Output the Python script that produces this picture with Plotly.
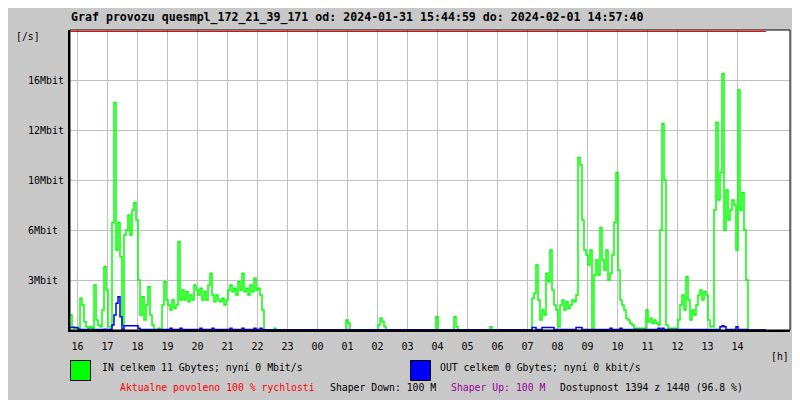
import numpy as np
import pandas as pd
import plotly.graph_objects as go

TITLE = "Graf provozu quesmpl_172_21_39_171 od: 2024-01-31 15:44:59 do: 2024-02-01 14:57:40"
START = "2024-01-31 15:45"
RANGE_END = "2024-02-01 15:45"
STEP_MIN = 4

# IN traffic, Mbit/s, one value per 4 minutes
IN_MBIT = (
    [0.9, 0.2, 0.1, 0.1, 0.1, 1.9, 1.5, 0.5, 0.2, 0.1,
     0.2, 0.1, 2.7, 0.6, 0.3, 0.2, 1.2, 3.8, 2.4, 0.2,
     0.2, 6.6, 14.2, 4.8, 6.6, 4.4, 0.3, 5.7, 6.0, 7.2,
     5.7, 7.6, 8.2, 6.8, 3.0, 0.9, 2.0, 0.6, 1.5, 2.6,
     0.9, 0.3, 0.0, 0.0, 0.1, 0.0, 1.5, 2.9, 1.8, 1.5,
     1.2, 1.8, 1.3, 1.5, 5.3, 1.8, 2.4, 1.8, 2.3, 1.7,
     2.1, 1.8, 2.7, 2.4, 2.1, 2.5, 1.8, 2.3, 1.8, 2.7,
     3.4, 2.1, 1.7, 2.1, 1.8, 1.7, 1.9, 1.5, 1.8, 2.4,
     2.7, 2.3, 2.5, 2.1, 2.9, 2.4, 3.4, 2.3, 2.5, 2.1,
     2.7, 2.3, 3.1, 2.4, 2.5, 2.1, 1.2, 0.0, 0.0, 0.0,
     0.0, 0.0, 0.1]
    + [0.0] * 35
    + [0.6, 0.4]
    + [0.0] * 14
    + [0.3, 0.7, 0.5, 0.2]
    + [0.0] * 25
    + [0.8]
    + [0.0] * 8
    + [0.8, 0.2]
    + [0.0] * 16
    + [0.2]
    + [0.0] * 20
    + [1.9, 2.2, 3.9, 1.8, 0.6, 1.2, 0.9, 3.4, 2.9, 4.8,
       2.4, 1.5, 1.2, 0.2, 1.5, 1.8, 1.2, 1.7, 1.3, 1.5,
       1.8, 1.7, 2.1, 10.9, 10.6, 6.8, 4.8, 4.5, 3.9, 4.8,
       0.0, 3.3, 4.2, 3.3, 6.2, 4.2, 3.6, 4.8, 3.0, 3.4,
       4.5, 6.6, 10.3, 3.6, 1.8, 1.5, 1.2, 0.7, 0.6, 0.4,
       0.3, 0.1, 0.1, 0.1, 0.1, 0.1, 0.1, 1.2, 0.5, 0.7,
       0.4, 0.6, 0.4, 0.3, 6.0, 12.5, 10.0, 0.3, 0.1, 0.1,
       0.1, 0.1, 0.1, 0.6, 1.5, 2.1, 1.2, 3.2, 1.8, 0.6,
       1.2, 0.9, 1.5, 2.1, 2.4, 1.8, 2.3, 2.1, 0.6, 0.2,
       0.2, 7.6, 12.6, 8.4, 10.3, 16.5, 6.0, 9.2, 6.8, 7.6,
       8.4, 8.0, 4.8, 15.2, 7.6, 9.0, 6.0, 3.0, 0.0]
    + [0.0] * 9
)

# OUT traffic, Mbit/s, one value per 4 minutes
OUT_MBIT = (
    [0.15, 0.15, 0.15, 0.15, 0.05, 0.03, 0.03, 0.03, 0.03, 0.03,
     0.03, 0.03, 0.03, 0.03, 0.03, 0.03, 0.03, 0.05, 0.03, 0.03,
     0.05, 0.3, 0.9, 1.6, 2.0, 0.8, 0.05, 0.25, 0.25, 0.25,
     0.25, 0.25, 0.25, 0.25, 0.1, 0.03, 0.03, 0.03, 0.03, 0.03,
     0.03, 0.03, 0.03, 0.03, 0.03, 0.03, 0.03, 0.03, 0.03, 0.03,
     0.1, 0.03, 0.03, 0.03, 0.03, 0.1, 0.03, 0.03, 0.03, 0.03,
     0.03, 0.03, 0.03, 0.03, 0.03, 0.1, 0.03, 0.03, 0.03, 0.03,
     0.03, 0.1, 0.03, 0.03, 0.03, 0.03, 0.03, 0.03, 0.03, 0.03,
     0.1, 0.03, 0.03, 0.03, 0.03, 0.03, 0.1, 0.03, 0.03, 0.03,
     0.03, 0.03, 0.1, 0.03, 0.03, 0.1, 0.03, 0.02, 0.02, 0.02]
    + [0.02] * 131
    + [0.15, 0.15, 0.03, 0.03, 0.03, 0.15, 0.15, 0.15, 0.15, 0.15,
       0.15, 0.03, 0.03, 0.03, 0.03, 0.03, 0.03, 0.03, 0.03, 0.03,
       0.03, 0.03, 0.15, 0.15, 0.15, 0.03, 0.03, 0.03, 0.03, 0.03,
       0.03, 0.03, 0.03, 0.03, 0.03, 0.03, 0.03, 0.03, 0.03, 0.1,
       0.03, 0.03, 0.03, 0.03, 0.1, 0.03, 0.03, 0.03, 0.03, 0.03,
       0.03, 0.03, 0.03, 0.03, 0.03, 0.03, 0.03, 0.03, 0.03, 0.03,
       0.03, 0.03, 0.03, 0.1, 0.03, 0.1, 0.03, 0.03, 0.03, 0.03,
       0.03, 0.03, 0.03, 0.03, 0.03, 0.03, 0.03, 0.03, 0.03, 0.03,
       0.03, 0.03, 0.03, 0.03, 0.03, 0.03, 0.03, 0.03, 0.03, 0.03,
       0.03, 0.03, 0.03, 0.03, 0.2, 0.25, 0.2, 0.03, 0.03, 0.03,
       0.03, 0.03, 0.2, 0.03, 0.03, 0.03, 0.03, 0.03, 0.0]
    + [0.0] * 9
)

HOUR_LABELS = ["16", "17", "18", "19", "20", "21", "22", "23", "00", "01", "02",
               "03", "04", "05", "06", "07", "08", "09", "10", "11", "12", "13", "14"]
FIRST_TICK = "2024-01-31 16:00"

Y_TICK_MBIT = [3, 6, 10, 12, 16]
Y_TICK_TEXT = ["3Mbit\u00a0", "6Mbit\u00a0", "10Mbit", "12Mbit", "16Mbit"]
# the chart's (non-linear) vertical scale: Mbit -> grid step
SCALE_MBIT = [0, 3, 6, 10, 12, 16, 20]
SCALE_POS = [0, 1, 2, 3, 4, 5, 6]

IN_TEXT = "IN celkem 11 Gbytes; nyní 0 Mbit/s"
OUT_TEXT = "OUT celkem 0 Gbytes; nyní 0 kbit/s"
STATUS = [
    ("Aktualne povoleno 100 % rychlosti", "#ff0000", 119),
    ("Shaper Down: 100 M", "#000000", 329),
    ("Shaper Up: 100 M", "#990099", 450),
    ("Dostupnost 1394 z 1440 (96.8 %)", "#000000", 559),
]

FONT = "DejaVu Sans Mono"
OFF = 8  # page body margin of the html page
W, H = 800 - OFF, 400 - OFF
L, R, T, B = 70 - OFF, 10, 30 - OFF, 70
PW, PH = W - L - R, H - T - B


def px(x):
    # page pixel x -> paper coordinate
    return (x - OFF - L) / PW


def py(y):
    # page pixel y -> paper coordinate
    return (H - B - (y - OFF)) / PH


def scale(v):
    return np.interp(np.asarray(v, dtype=float), SCALE_MBIT, SCALE_POS)


times = pd.date_range(START, periods=len(IN_MBIT), freq=f"{STEP_MIN}min")
tickvals = pd.date_range(FIRST_TICK, periods=len(HOUR_LABELS), freq="h")

fig = go.Figure()
fig.add_trace(go.Scatter(x=times, y=scale(IN_MBIT), mode="lines",
                         line=dict(color="#00ff00", width=1.5, shape="hv"),
                         name="IN", showlegend=False))
fig.add_trace(go.Scatter(x=times[:len(OUT_MBIT)], y=scale(OUT_MBIT), mode="lines",
                         line=dict(color="#0000ff", width=1.5, shape="hv"),
                         name="OUT", showlegend=False))

fig.update_layout(
    width=W, height=H,
    margin=dict(l=L, r=R, t=T, b=B),
    paper_bgcolor="#c8c8c8", plot_bgcolor="#ffffff",
    font=dict(family=FONT, size=10, color="#000000"),
    showlegend=False,
)
fig.update_xaxes(
    type="date", range=[START, RANGE_END],
    tickvals=tickvals, ticktext=HOUR_LABELS,
    showgrid=True, gridcolor="#c0c0c0", gridwidth=1,
    showline=True, linecolor="#000000", linewidth=2,
    ticks="", ticklabelstandoff=6, zeroline=False,
    tickfont=dict(family=FONT, size=10),
)
fig.update_yaxes(
    range=[0, 6], tickvals=scale(Y_TICK_MBIT), ticktext=Y_TICK_TEXT,
    showgrid=True, gridcolor="#c0c0c0", gridwidth=1,
    showline=True, linecolor="#000000", linewidth=2,
    ticks="", ticklabelstandoff=2, zeroline=False,
    tickfont=dict(family=FONT, size=10),
)

shapes = [
    dict(type="rect", xref="paper", yref="paper", x0=0, x1=1, y0=0, y1=1,
         line=dict(color="#000000", width=1)),
    dict(type="line", xref="x", yref="paper", x0=times[0], x1=times[-1],
         y0=py(31.5), y1=py(31.5), line=dict(color="#ff0000", width=1)),
    dict(type="rect", xref="paper", yref="paper", x0=px(70.5), x1=px(90.5),
         y0=py(360.5), y1=py(380.5), fillcolor="#00ff00", line=dict(color="#000000", width=1)),
    dict(type="rect", xref="paper", yref="paper", x0=px(410.5), x1=px(430.5),
         y0=py(360.5), y1=py(380.5), fillcolor="#0000ff", line=dict(color="#000000", width=1)),
]
fig.update_layout(shapes=shapes)

anns = [
    dict(text="<b>" + TITLE + "</b>", x=px(69), y=py(18), font=dict(size=11.6)),
    dict(text="[/s]", x=px(14), y=py(37)),
    dict(text="[h]", x=px(769), y=py(356)),
    dict(text=IN_TEXT, x=px(100), y=py(367)),
    dict(text=OUT_TEXT, x=px(438), y=py(367)),
]
for txt, col, xx in STATUS:
    anns.append(dict(text=txt, x=px(xx - 1), y=py(387), font=dict(color=col)))
for a in anns:
    f = dict(family=FONT, size=9.8, color="#000000")
    f.update(a.pop("font", {}))
    fig.add_annotation(xref="paper", yref="paper", xanchor="left", yanchor="middle",
                       showarrow=False, font=f, **a)

fig.write_html("out.html")
